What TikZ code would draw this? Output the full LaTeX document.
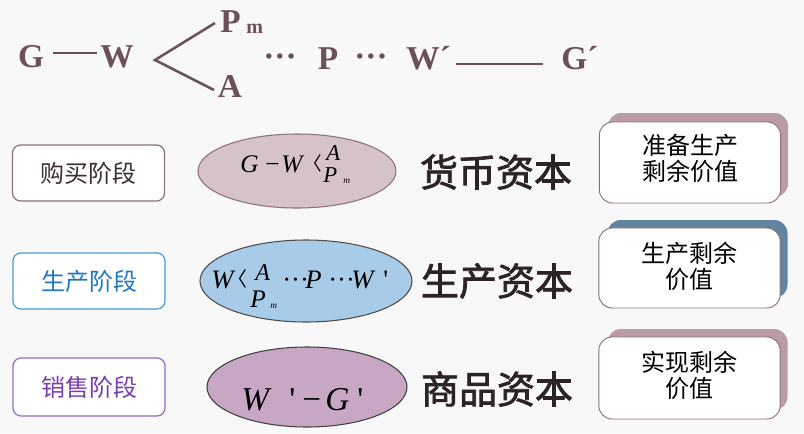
\documentclass[tikz,border=0pt]{standalone}
\usepackage{fontspec}
\usetikzlibrary{shapes.geometric}
\setmainfont{Liberation Serif}
\newfontfamily\rs{Liberation Serif}
\newfontfamily\cjk{Noto Sans CJK SC}
\newfontfamily\cjkb[FakeBold=2]{Noto Sans CJK SC}
\definecolor{bgc}{HTML}{F8F8F8}
\definecolor{topc}{HTML}{6B5058}
\definecolor{mauveb}{HTML}{8E7078}
\definecolor{mauvef}{HTML}{D6C3C9}
\definecolor{bluef}{HTML}{A8CCE7}
\definecolor{blueb}{HTML}{4A9AD8}
\definecolor{bluet}{HTML}{1F78C2}
\definecolor{purpb}{HTML}{9A68C8}
\definecolor{purpt}{HTML}{7A3DB2}
\definecolor{purpf}{HTML}{C8A7C5}
\definecolor{shadm}{HTML}{B99CA4}
\definecolor{shadb}{HTML}{6384A0}
\definecolor{darktxt}{HTML}{2D2326}
\definecolor{stagetxt}{HTML}{3C2F33}
\begin{document}
\begin{tikzpicture}[x=0.75pt,y=-0.75pt,
  top/.style={inner sep=0, anchor=base, text=topc, font=\fontsize{25}{27}\selectfont\bfseries},
  topsub/.style={inner sep=0, anchor=base west, text=topc, font=\fontsize{15}{17}\selectfont\bfseries},
  topline/.style={draw=topc, line width=2.2pt},
  stagebox/.style={draw, rounded corners=6pt, line width=0.9pt, fill=white, inner sep=0,
     minimum width=114pt, minimum height=42pt, font=\cjk\fontsize{18}{20}\selectfont},
  ell/.style={ellipse, draw, line width=0.8pt, inner sep=0},
  mi/.style={inner sep=0, anchor=base west, font=\itshape},
  angl/.style={inner sep=0, anchor=base east},
  capt/.style={inner sep=0, text=darktxt, font=\cjkb\fontsize{28.5}{30}\selectfont},
  shad/.style={rounded corners=10pt, inner sep=0, minimum width=135pt},
  vbox/.style={draw=mauveb, fill=white, line width=0.7pt, rounded corners=10pt, inner sep=0, minimum width=136pt},
  vtext/.style={inner sep=0, align=center, font=\cjk\fontsize{18}{19.5}\selectfont, text=black}
]
\path[fill=bgc] (0,0) rectangle (804,433);

% top formula
\node[top] (G) at (31,67) {G};
\node[top] (W) at (117,67) {W};
\node[top,anchor=base west] (Pm) at (220,32) {P};
\node[topsub] (m) at (246,33) {m};
\node[top] (A) at (230,97) {A};
\node[top] (d1) at (280,67) {···};
\node[top] (P) at (328,69) {P};
\node[top] (d2) at (371,67) {···};
\node[top,anchor=base west] (W2) at (406,69) {W´};
\node[top,anchor=base west] (G2) at (561,69) {G´};
\coordinate (l1a) at (53,53);
\coordinate (l1b) at (97,53);
\coordinate (v) at (155,60);
\coordinate (pe) at (215,23);
\coordinate (ae) at (214,90);
\coordinate (l2a) at (456,64);
\coordinate (l2b) at (543,64);
\draw[topline] (l1a) -- (l1b);
\draw[topline, line width=1.9pt] (pe) -- (v) -- (ae);
\draw[topline] (l2a) -- (l2b);

% stage boxes
\node[stagebox, draw=mauveb, text=stagetxt] (s1) at (88.5,173) {购买阶段};
\node[stagebox, draw=blueb, text=bluet] (s2) at (89,281) {生产阶段};
\node[stagebox, draw=purpb, text=purpt, minimum height=43.5pt] (s3) at (89,387) {销售阶段};

% ellipses
\node[ell, draw=mauveb, fill=mauvef, minimum width=148.5pt, minimum height=55.5pt] (e1) at (297,171) {};
\node[ell, draw=black!70, fill=bluef, minimum width=159pt, minimum height=61.5pt] (e2) at (306,281) {};
\node[ell, draw=black!75, fill=purpf, minimum width=150pt, minimum height=60pt] (e3) at (307,387) {};

% formula 1
\begin{scope}[every node/.style={mi, font=\fontsize{19}{21}\selectfont\itshape}]
\node (f1a) at (240,172) {G};
\node[font=\fontsize{19}{21}\selectfont] (f1b) at (265,172) {−};
\node (f1c) at (281,172) {W};
\node[angl, font=\cjk\fontsize{14}{16}\selectfont] (f1d) at (322,170) {〈};
\node[font=\fontsize{17}{19}\selectfont\itshape] (f1e) at (326,160) {A};
\node[font=\fontsize{17}{19}\selectfont\itshape] (f1f) at (323,182) {P};
\node[font=\fontsize{7}{8}\selectfont\itshape] (f1g) at (343,183) {m};
\end{scope}

% formula 2
\begin{scope}[every node/.style={mi, font=\fontsize{20}{22}\selectfont\itshape}]
\node (f2a) at (211,288) {W};
\node[angl, font=\cjk\fontsize{15}{17}\selectfont] (f2b) at (248,286) {〈};
\node[font=\fontsize{18}{20}\selectfont\itshape] (f2c) at (255,280) {A};
\node[font=\fontsize{19}{21}\selectfont\itshape] (f2d) at (250,307) {P};
\node[font=\fontsize{7}{8}\selectfont\itshape] (f2e) at (270,308) {m};
\node[font=\fontsize{20}{22}\selectfont] (f2f) at (282,288) {···};
\node (f2g) at (305,288) {P};
\node[font=\fontsize{20}{22}\selectfont] (f2h) at (328,288) {···};
\node (f2i) at (351,288) {W};
\node[font=\rs\fontsize{20}{22}\selectfont] (f2j) at (383,288) {'};
\end{scope}

% formula 3
\begin{scope}[every node/.style={mi, font=\fontsize{25}{27}\selectfont\itshape}]
\node (f3a) at (241,410) {W};
\node[font=\rs\fontsize{25}{27}\selectfont] (f3b) at (289,410) {'};
\node[font=\fontsize{25}{27}\selectfont] (f3c) at (302,410) {−};
\node (f3d) at (325,410) {G};
\node[font=\rs\fontsize{25}{27}\selectfont] (f3e) at (357,410) {'};
\end{scope}

% captions
\node[capt] (c1) at (496,172) {货币资本};
\node[capt] (c2) at (497,281) {生产资本};
\node[capt] (c3) at (497,389) {商品资本};

% value boxes
\node[shad, fill=shadm, minimum height=63pt] (h1) at (698,155) {};
\node[vbox, minimum height=60.75pt] (b1) at (690,162.5) {};
\node[vtext] (t1) at (690,158) {准备生产\\剩余价值};

\node[shad, fill=shadb, minimum height=58.5pt] (h2) at (697.5,259) {};
\node[vbox, minimum height=60pt] (b2) at (689.5,268) {};
\node[vtext] (t2) at (689.5,266) {生产剩余\\价值};

\node[shad, fill=shadm, minimum height=60.75pt] (h3) at (697.5,369.5) {};
\node[vbox, minimum height=61.5pt] (b3) at (689.5,378) {};
\node[vtext] (t3) at (689.5,375.5) {实现剩余\\价值};
\end{tikzpicture}
\end{document}
